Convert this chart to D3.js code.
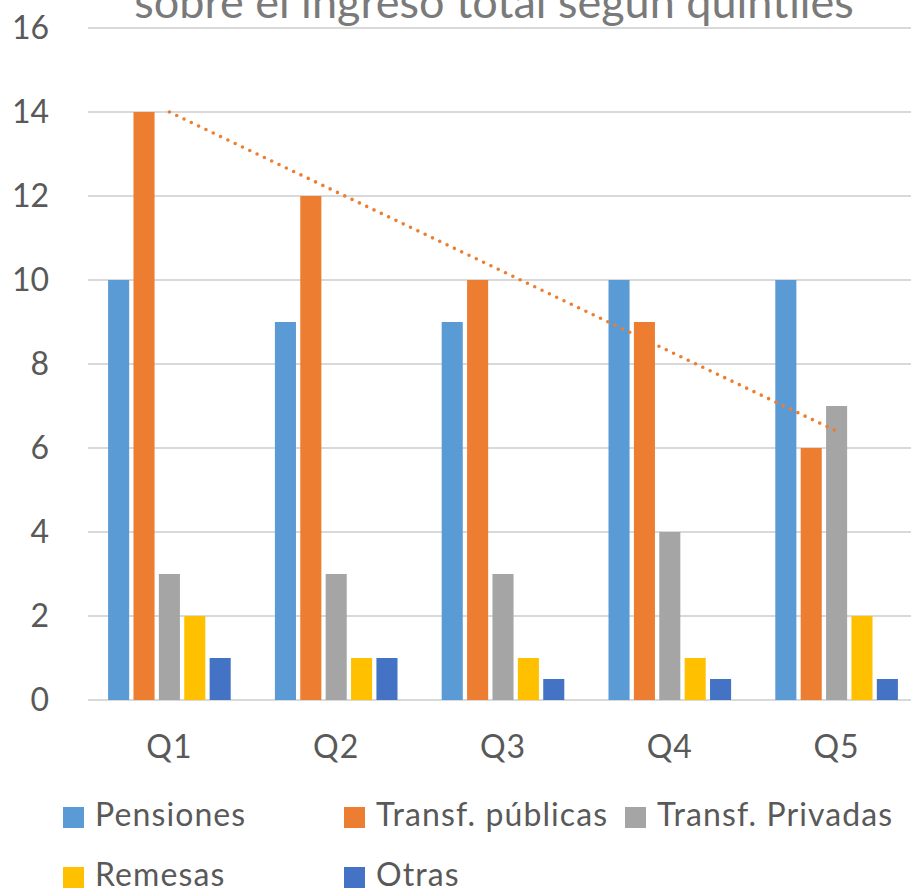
<!DOCTYPE html>
<html>
<head>
<meta charset="utf-8">
<script src="https://cdn.jsdelivr.net/npm/d3@7"></script>
<style>
  body { margin: 0; background: #fff; }
  svg { display: block; font-family: Lato, "Open Sans", sans-serif; }
</style>
</head>
<body>
<svg></svg>
<script>
const width = 911
const height = 889
const margins = { top: 28, bottom: 189, left: 86, right: -9 }

const title = "sobre el ingreso total según quintiles"
const quintiles = ["Q1", "Q2", "Q3", "Q4", "Q5"]
const series = ["Pensiones", "Transf. públicas", "Transf. Privadas", "Remesas", "Otras"]
const colors = ["#5B9BD5", "#ED7D31", "#A5A5A5", "#FFC000", "#4472C4"]
const pensiones = [10, 9, 9, 10, 10]
const publicas = [14, 12, 10, 9, 6]
const privadas = [3, 3, 3, 4, 7]
const remesas = [2, 1, 1, 1, 2]
const otras = [1, 1, 0.5, 0.5, 0.5]
const y_ticks = [0, 2, 4, 6, 8, 10, 12, 14, 16]

const values = [pensiones, publicas, privadas, remesas, otras]
let data = quintiles.map((q, i) => ({
  q: q,
  bars: series.map((s, j) => ({ key: s, value: values[j][i] }))
}))

let color_scale = d3.scaleOrdinal(series, colors)

let x0 = d3.scaleBand(quintiles, [margins.left, width - margins.right])
  .paddingInner(0.265)
  .paddingOuter(0.1325)
let x1 = d3.scaleBand(series, [0, x0.bandwidth()])
  .paddingInner(0.17)
let y_scale = d3.scaleLinear([0, 16], [height - margins.bottom, margins.top])

let svg = d3.select("svg")
  .attr("width", width)
  .attr("height", height)

// gridlines
svg.append("g")
  .selectAll("line")
  .data(y_ticks)
  .join("line")
  .attr("x1", margins.left + 2)
  .attr("x2", width)
  .attr("y1", d => y_scale(d))
  .attr("y2", d => y_scale(d))
  .style("stroke", "#d9d9d9")
  .style("stroke-width", 2)

// y axis labels
let y_axis = d3.axisLeft(y_scale).tickValues(y_ticks).tickSize(0).tickPadding(0)
svg.append("g")
  .attr("transform", `translate(49,0)`)
  .call(y_axis)
  .call(g => g.select(".domain").remove())
  .selectAll("text")
  .attr("dy", "0.34em")
  .style("font-family", "Lato, sans-serif")
  .style("font-size", "32px")
  .style("fill", "#595959")

// bars
svg.append("g")
  .selectAll("g")
  .data(data)
  .join("g")
  .attr("transform", d => `translate(${x0(d.q)},0)`)
  .selectAll("rect")
  .data(d => d.bars)
  .join("rect")
  .attr("x", d => x1(d.key))
  .attr("width", x1.bandwidth())
  .attr("y", d => y_scale(d.value))
  .attr("height", d => y_scale(0) - y_scale(d.value))
  .style("fill", d => color_scale(d.key))

// x axis labels
let x_axis = d3.axisBottom(x0).tickSize(0).tickPadding(0)
svg.append("g")
  .attr("transform", `translate(0,${y_scale(0)})`)
  .call(x_axis)
  .call(g => g.select(".domain").remove())
  .selectAll("text")
  .attr("y", 58)
  .attr("dy", 0)
  .style("font-family", "Lato, sans-serif")
  .style("font-size", "32px")
  .style("letter-spacing", "1px")
  .style("fill", "#595959")

// linear trendline on Transf. públicas
let xs = d3.range(1, quintiles.length + 1)
let mx = d3.mean(xs), my = d3.mean(publicas)
let slope = d3.sum(xs, (x, i) => (x - mx) * (publicas[i] - my)) / d3.sum(xs, x => (x - mx) ** 2)
let intercept = my - slope * mx
let trend = [quintiles[0], quintiles[quintiles.length - 1]].map(q => {
  let i = quintiles.indexOf(q) + 1
  return [x0(q) + x0.bandwidth() / 2, y_scale(intercept + slope * i)]
})
svg.append("path")
  .attr("d", d3.line()(trend))
  .style("fill", "none")
  .style("stroke", "#ED7D31")
  .style("stroke-width", 3.6)
  .style("stroke-linecap", "round")
  .style("stroke-dasharray", "0 8.1")

// title (cut off at the top)
svg.append("text")
  .attr("x", 494)
  .attr("y", 18)
  .attr("text-anchor", "middle")
  .style("font-size", "45px")
  .style("fill", "#7a7a7a")
  .text(title)

// legend
let legend_pos = [[63, 807], [344, 807], [625, 807], [63, 867], [344, 867]]
let legend = svg.append("g")
  .selectAll("g")
  .data(series)
  .join("g")
  .attr("transform", (d, i) => `translate(${legend_pos[i][0]},${legend_pos[i][1]})`)
legend.append("rect")
  .attr("width", 21)
  .attr("height", 21)
  .style("fill", d => color_scale(d))
legend.append("text")
  .attr("x", 32)
  .attr("y", 19)
  .style("font-size", "32px")
  .style("letter-spacing", "1.1px")
  .style("fill", "#595959")
  .text(d => d)
</script>
</body>
</html>
